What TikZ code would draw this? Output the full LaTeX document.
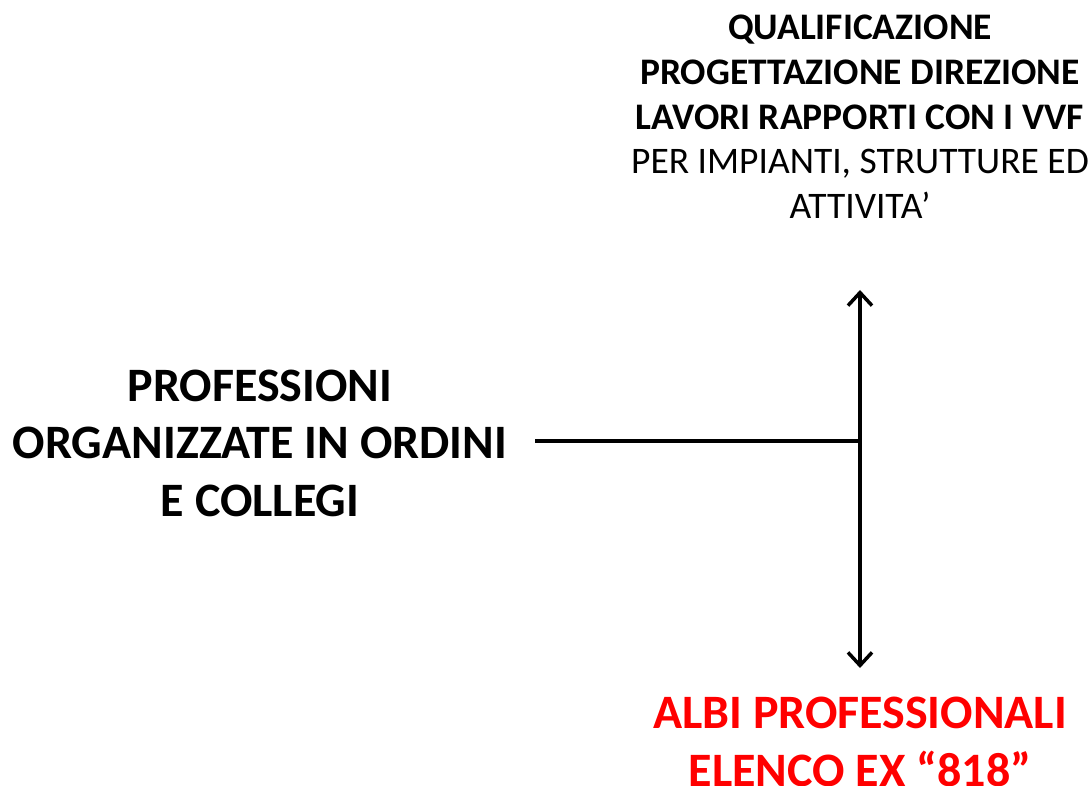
\documentclass[tikz,border=0pt]{standalone}
\usepackage{fontspec}
\setmainfont{Carlito}
\usetikzlibrary{arrows.meta}
\begin{document}
\begin{tikzpicture}[x=1pt,y=-1pt,
  conn/.style={line width=3.5pt,black},
  tip/.style={-{Straight Barb[length=13pt,width=24pt,line width=3.5pt]}},
  big/.style={align=center,font=\fontsize{48}{57.5}\selectfont\bfseries,inner sep=0pt},
  top/.style={align=center,font=\fontsize{37.5}{44.7}\selectfont,inner sep=0pt}]
\useasboundingbox (0,0) rectangle (1092,786);
\node[top] (q) at (860,117) {\textbf{QUALIFICAZIONE}\\\textbf{PROGETTAZIONE DIREZIONE}\\\textbf{LAVORI RAPPORTI CON I VVF}\\PER IMPIANTI, STRUTTURE ED\\ATTIVITA’};
\node[big] (p) at (260,443) {PROFESSIONI\\ORGANIZZATE IN ORDINI\\E COLLEGI};
\node[big,red] (a) at (860,742) {ALBI PROFESSIONALI\\ELENCO EX “818”};
\coordinate (j) at (860,441);
\coordinate (l) at (535,441);
\coordinate (u) at (860,290);
\coordinate (d) at (860,668);
\draw[conn] (l) -- (j);
\draw[conn,tip] (j) -- (u);
\draw[conn,tip] (j) -- (d);
\end{tikzpicture}
\end{document}
